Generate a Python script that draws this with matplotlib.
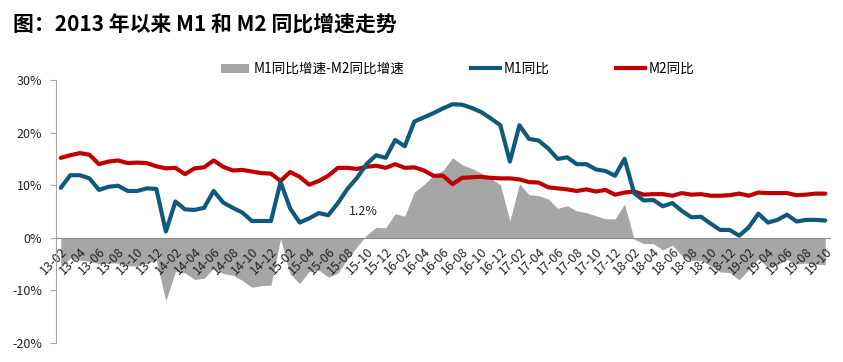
import numpy as np
import matplotlib.pyplot as plt
from matplotlib.patches import Patch
from matplotlib.lines import Line2D

plt.rcParams['font.family'] = ['Noto Sans CJK SC', 'DejaVu Sans']
plt.rcParams['axes.unicode_minus'] = False

# monthly data, 2013-02 .. 2019-10 (%)
years = list(range(2013, 2020))
months = [f"{y % 100:02d}-{m:02d}" for y in years for m in range(1, 13)]
months = months[1:months.index("19-10") + 1]

m1_yoy = [9.5, 11.9, 11.9, 11.3, 9.1, 9.7, 9.9, 8.9, 8.9, 9.4, 9.3,
          1.2, 6.9, 5.4, 5.3, 5.7, 8.9, 6.7, 5.7, 4.8, 3.2, 3.2, 3.2,
          10.6, 5.6, 2.9, 3.7, 4.7, 4.3, 6.6, 9.3, 11.4, 14.0, 15.7, 15.2,
          18.6, 17.4, 22.1, 22.9, 23.7, 24.6, 25.4, 25.3, 24.7, 23.9, 22.7, 21.4,
          14.5, 21.4, 18.8, 18.5, 17.0, 15.0, 15.3, 14.0, 14.0, 13.0, 12.7, 11.8,
          15.0, 8.5, 7.1, 7.2, 6.0, 6.6, 5.1, 3.9, 4.0, 2.7, 1.5, 1.5,
          0.4, 2.0, 4.6, 2.9, 3.4, 4.4, 3.1, 3.4, 3.4, 3.3]
m2_yoy = [15.2, 15.7, 16.1, 15.8, 14.0, 14.5, 14.7, 14.2, 14.3, 14.2, 13.6,
          13.2, 13.3, 12.1, 13.2, 13.4, 14.7, 13.5, 12.8, 12.9, 12.6, 12.3, 12.2,
          10.8, 12.5, 11.6, 10.1, 10.8, 11.8, 13.3, 13.3, 13.1, 13.5, 13.7, 13.3,
          14.0, 13.3, 13.4, 12.8, 11.8, 11.8, 10.2, 11.4, 11.5, 11.6, 11.4, 11.3,
          11.3, 11.1, 10.6, 10.5, 9.6, 9.4, 9.2, 8.9, 9.2, 8.8, 9.1, 8.2,
          8.6, 8.8, 8.2, 8.3, 8.3, 8.0, 8.5, 8.2, 8.3, 8.0, 8.0, 8.1,
          8.4, 8.0, 8.6, 8.5, 8.5, 8.5, 8.1, 8.2, 8.4, 8.4]

diff = np.array(m1_yoy) - np.array(m2_yoy)
x = np.arange(len(months))

fig = plt.figure(figsize=(8.43, 3.62), dpi=100)
ax = fig.add_axes([0.0664, 0.0525, 0.9182, 0.7265])

# spine position first: it resets the ticks
for s in ['top', 'right']:
    ax.spines[s].set_visible(False)
ax.spines['left'].set_color('#A6A6A6')
ax.spines['bottom'].set_position(('data', 0))
ax.spines['bottom'].set_color('#8C8C8C')
ax.spines['bottom'].set_zorder(4)

ax.fill_between(x, 0, diff, color='#A6A6A6', linewidth=0, zorder=1)
ax.plot(x, m1_yoy, color='#0F5A7C', lw=3, solid_capstyle='round', zorder=3)
ax.plot(x, m2_yoy, color='#C00000', lw=3, solid_capstyle='round', zorder=2)

ax.text(31.7, 5.0, "1.2%", fontsize=9, ha='center', va='center', color='#222222')

ax.set_xlim(-0.5, len(months) - 0.5)
ax.set_ylim(-20, 30)
ax.set_yticks([-20, -10, 0, 10, 20, 30])
ax.set_yticklabels([f"{v}%" for v in [-20, -10, 0, 10, 20, 30]], fontsize=9, color='#222222')
ax.tick_params(axis='y', length=4, color='#A6A6A6', pad=6)

ax.set_xticks(x[::2])
ax.set_xticklabels(months[::2], fontsize=9, color='#222222')
ax.tick_params(axis='x', length=0, pad=5)
for lab in ax.get_xticklabels():
    lab.set_rotation(45)
    lab.set_ha('right')
    lab.set_va('top')
    lab.set_rotation_mode('anchor')

handles = [Patch(facecolor='#A6A6A6', edgecolor='none'),
           Line2D([], [], color='#0F5A7C', lw=3),
           Line2D([], [], color='#C00000', lw=3)]
labels = ["M1同比增速-M2同比增速", "M1同比", "M2同比"]
fig.legend(handles, labels, loc='center left', bbox_to_anchor=(0.262, 0.809),
           ncol=3, frameon=False, fontsize=9.8, handlelength=2.1,
           handletextpad=0.3, columnspacing=4.9, borderpad=0, borderaxespad=0)

fig.text(0.016, 0.935, "图：2013 年以来 M1 和 M2 同比增速走势",
         fontsize=15, fontweight='bold', ha='left', va='center')

fig.savefig("out.png", dpi=100)
